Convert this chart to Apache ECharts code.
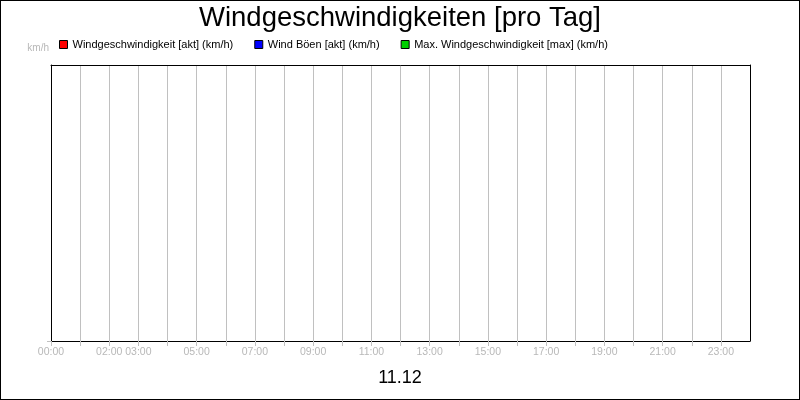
<!DOCTYPE html>
<html>
<head>
<meta charset="utf-8">
<script src="https://cdn.jsdelivr.net/npm/echarts@6/dist/echarts.min.js"></script>
<style>
html,body{margin:0;padding:0;background:#fff;}
#chart{width:800px;height:400px;box-sizing:border-box;border:1px solid #000;}
</style>
</head>
<body>
<div id="chart"></div>
<script>
const titleText = 'Windgeschwindigkeiten [pro Tag]';
const dateLabel = '11.12';
const unitLabel = 'km/h';
const seriesNames = ['Windgeschwindigkeit [akt] (km/h)', 'Wind Böen [akt] (km/h)', 'Max. Windgeschwindigkeit [max] (km/h)'];
const seriesColors = ['#ff0000', '#0000ff', '#00d000'];
const windAkt = [];
const windBoeen = [];
const windMax = [];
const tickLabels = {0:'00:00',2:'02:00',3:'03:00',5:'05:00',7:'07:00',9:'09:00',11:'11:00',13:'13:00',15:'15:00',17:'17:00',19:'19:00',21:'21:00',23:'23:00'};

const chart = echarts.init(document.getElementById('chart'));
const font = 'Liberation Sans, Arial, sans-serif';
chart.setOption({
  animation: false,
  textStyle: {fontFamily: font},
  title: [
    {text: titleText, left: 'center', top: 3, padding: [0,0,0,0], textStyle: {fontSize: 27.5, fontWeight: 'normal', color: '#000', fontFamily: font}},
    {text: dateLabel, left: 'center', top: 368, padding: [0,0,0,0], textStyle: {fontSize: 18, fontWeight: 'normal', color: '#000', fontFamily: font}}
  ],
  legend: {
    left: 58, top: 38, padding: 0, icon: 'rect', itemWidth: 8, itemHeight: 8, itemGap: 21,
    textStyle: {fontSize: 11, color: '#000', fontFamily: font},
    itemStyle: {borderColor: '#000', borderWidth: 1},
    data: seriesNames
  },
  grid: {left: 50, right: 49, top: 64, bottom: 58, show: false, containLabel: false},
  xAxis: [{
    type: 'value', min: 0, max: 24, interval: 1, position: 'bottom',
    axisLine: {show: true, onZero: false, lineStyle: {color: '#000'}},
    axisTick: {show: true, length: 5, lineStyle: {color: '#c0c0c0'}},
    splitLine: {show: true, lineStyle: {color: '#c0c0c0'}},
    axisLabel: {color: '#b8b8b8', fontSize: 10.5, margin: 6, fontFamily: font, showMaxLabel: false,
      formatter: v => tickLabels[v] || ''}
  }, {
    type: 'value', min: 0, max: 24, position: 'top',
    axisLine: {show: true, onZero: false, lineStyle: {color: '#000'}},
    axisTick: {show: false}, axisLabel: {show: false}, splitLine: {show: false}
  }],
  yAxis: [{
    type: 'value', min: 0, max: 1, position: 'left',
    name: unitLabel, nameLocation: 'end', nameGap: 12,
    nameTextStyle: {color: '#b8b8b8', fontSize: 10, align: 'right', padding: [0, 2, 0, 0], fontFamily: font},
    axisLine: {show: true, onZero: false, lineStyle: {color: '#000'}},
    axisTick: {show: true, length: 4, customValues: [0], lineStyle: {color: '#c0c0c0'}},
    axisLabel: {show: false},
    splitLine: {show: false}
  }, {
    type: 'value', min: 0, max: 1, position: 'right',
    axisLine: {show: true, onZero: false, lineStyle: {color: '#000'}},
    axisTick: {show: false}, axisLabel: {show: false}, splitLine: {show: false}
  }],
  series: [
    {name: seriesNames[0], type: 'line', data: windAkt, color: seriesColors[0], showSymbol: false},
    {name: seriesNames[1], type: 'line', data: windBoeen, color: seriesColors[1], showSymbol: false},
    {name: seriesNames[2], type: 'line', data: windMax, color: seriesColors[2], showSymbol: false}
  ]
});
</script>
</body>
</html>
